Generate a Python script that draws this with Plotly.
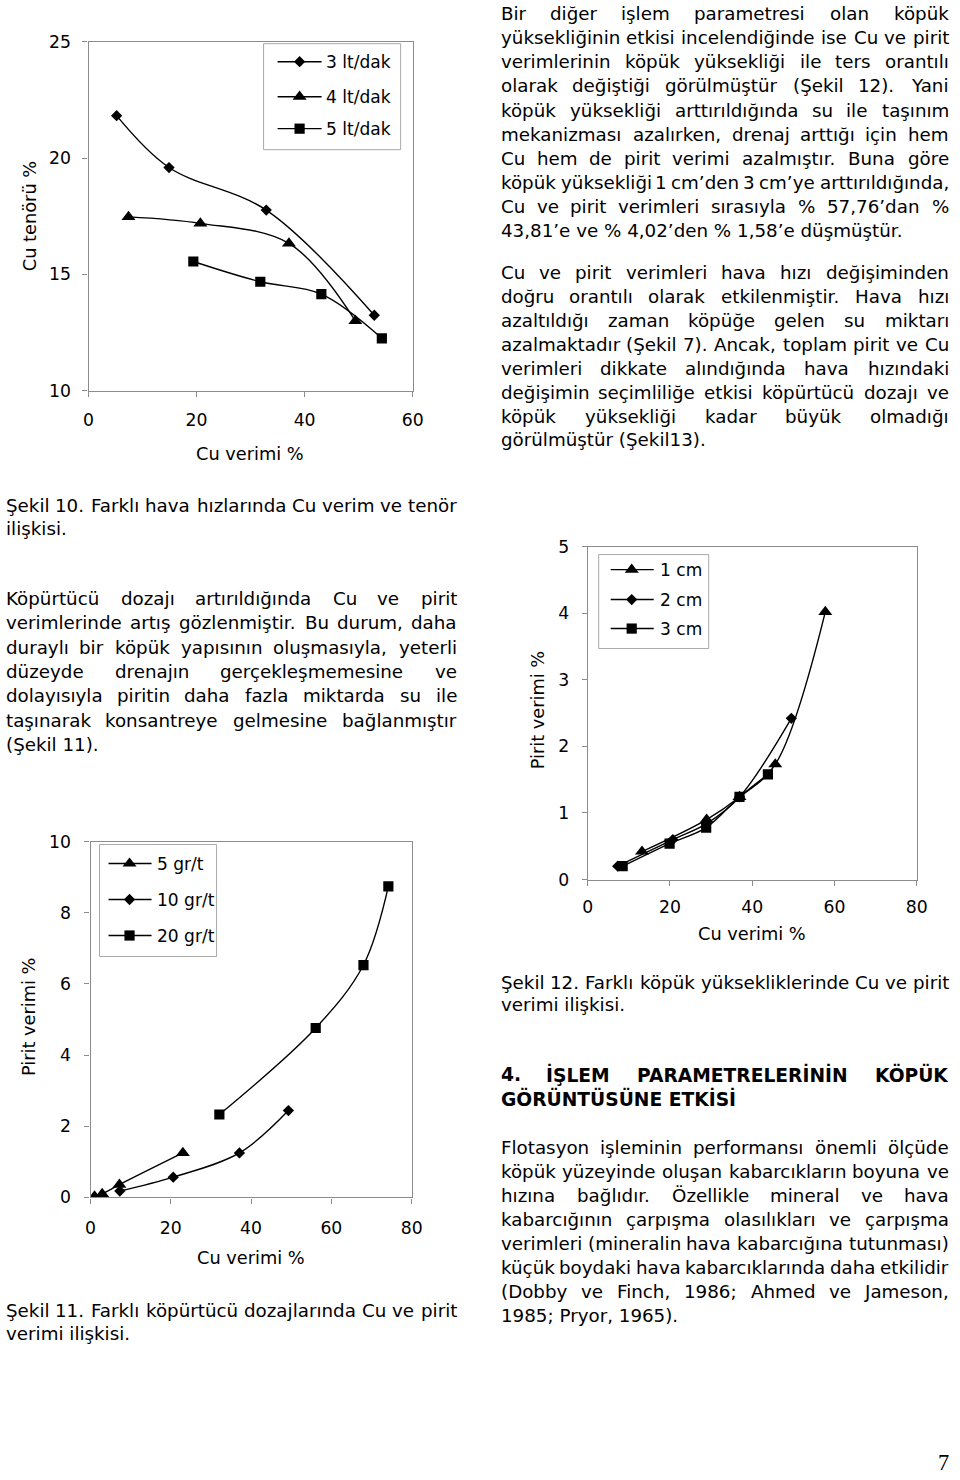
import plotly.graph_objects as go

# ---------------- data ----------------
# Şekil 10: Cu verimi % (x) – Cu tenörü % (y)
s10_names = ["3 lt/dak", "4 lt/dak", "5 lt/dak"]
s10_x_3 = [5.2, 14.9, 32.9, 52.9]
s10_y_3 = [21.82, 19.59, 17.76, 13.24]
s10_x_4 = [7.4, 20.7, 37.1, 49.4]
s10_y_4 = [17.47, 17.19, 16.33, 13.0]
s10_x_5 = [19.4, 31.8, 43.1, 54.3]
s10_y_5 = [15.55, 14.68, 14.15, 12.25]
s10_xticks = [0, 20, 40, 60]
s10_yticks = [10, 15, 20, 25]

# Şekil 11: Cu verimi % (x) – Pirit verimi % (y)
s11_names = ["5 gr/t", "10 gr/t", "20 gr/t"]
s11_x_5 = [1.0, 2.9, 7.2, 23.0]
s11_y_5 = [0.03, 0.10, 0.36, 1.25]
s11_x_10 = [7.3, 20.6, 37.1, 49.3]
s11_y_10 = [0.18, 0.57, 1.25, 2.44]
s11_x_20 = [32.1, 56.1, 68.0, 74.2]
s11_y_20 = [2.33, 4.76, 6.53, 8.74]
s11_xticks = [0, 20, 40, 60, 80]
s11_yticks = [0, 2, 4, 6, 8, 10]

# Şekil 12: Cu verimi % (x) – Pirit verimi % (y)
s12_names = ["1 cm", "2 cm", "3 cm"]
s12_x_1 = [13.2, 28.9, 36.9, 45.6, 57.76]
s12_y_1 = [0.42, 0.90, 1.24, 1.73, 4.02]
s12_x_2 = [7.3, 20.7, 28.9, 36.9, 49.5]
s12_y_2 = [0.20, 0.60, 0.84, 1.24, 2.42]
s12_x_3 = [8.5, 19.9, 28.8, 36.9, 43.81]
s12_y_3 = [0.20, 0.54, 0.78, 1.24, 1.58]
s12_xticks = [0, 20, 40, 60, 80]
s12_yticks = [0, 1, 2, 3, 4, 5]

# ---------------- page text ----------------
txt_right_top = [
    "Bir diğer işlem parametresi olan köpük",
    "yüksekliğinin etkisi incelendiğinde ise Cu ve pirit",
    "verimlerinin köpük yüksekliği ile ters orantılı",
    "olarak değiştiği görülmüştür (Şekil 12). Yani",
    "köpük yüksekliği arttırıldığında su ile taşınım",
    "mekanizması azalırken, drenaj arttığı için hem",
    "Cu hem de pirit verimi azalmıştır.  Buna göre",
    "köpük yüksekliği 1 cm’den 3 cm’ye arttırıldığında,",
    "Cu ve pirit verimleri sırasıyla % 57,76’dan %",
    "43,81’e ve % 4,02’den % 1,58’e düşmüştür.",
]
txt_right_mid = [
    "Cu ve pirit verimleri hava hızı değişiminden",
    "doğru orantılı olarak etkilenmiştir. Hava hızı",
    "azaltıldığı zaman köpüğe gelen su miktarı",
    "azalmaktadır (Şekil 7). Ancak, toplam pirit ve Cu",
    "verimleri dikkate alındığında hava hızındaki",
    "değişimin seçimliliğe etkisi köpürtücü dozajı ve",
    "köpük yüksekliği kadar büyük olmadığı",
    "görülmüştür (Şekil13).",
]
txt_cap10 = [
    "Şekil 10. Farklı hava hızlarında Cu verim ve tenör",
    "ilişkisi.",
]
txt_left = [
    "Köpürtücü dozajı artırıldığında Cu ve pirit",
    "verimlerinde artış gözlenmiştir. Bu durum, daha",
    "duraylı bir köpük yapısının oluşmasıyla, yeterli",
    "düzeyde drenajın gerçekleşmemesine ve",
    "dolayısıyla piritin daha fazla miktarda su ile",
    "taşınarak konsantreye gelmesine bağlanmıştır",
    "(Şekil 11).",
]
txt_cap11 = [
    "Şekil 11. Farklı köpürtücü dozajlarında Cu ve pirit",
    "verimi ilişkisi.",
]
txt_cap12 = [
    "Şekil 12. Farklı köpük yüksekliklerinde Cu ve pirit",
    "verimi ilişkisi.",
]
txt_heading = [
    "4. İŞLEM PARAMETRELERİNİN KÖPÜK",
    "GÖRÜNTÜSÜNE ETKİSİ",
]
txt_right_bottom = [
    "Flotasyon işleminin performansı önemli ölçüde",
    "köpük yüzeyinde oluşan kabarcıkların boyuna ve",
    "hızına bağlıdır. Özellikle mineral ve hava",
    "kabarcığının çarpışma olasılıkları ve çarpışma",
    "verimleri (mineralin hava kabarcığına tutunması)",
    "küçük boydaki hava kabarcıklarında daha etkilidir",
    "(Dobby ve Finch, 1986; Ahmed ve Jameson,",
    "1985; Pryor, 1965).",
]
page_number = "7"

# ---------------- page geometry ----------------
W, H = 960, 1480
# the photographed page is slightly scaled/offset; layout positions below are
# given in picture pixels and converted with this affine map
KX, AX = 0.983, 5.5
KY, AY = 0.9867, 9.3
KF = (KX + KY) / 2.0           # font scale compensation

FONT = "DejaVu Sans"
GREY = "#8c8c8c"
BODY = 18.0 / KF
CH = 17.0 / KF
LEG = 16.8 / KF

WREG = {" ": 318, "!": 401, "%": 950, "'": 275, "(": 390, ")": 390, ",": 318, "-": 361,
        ".": 318, "/": 337, ":": 337, ";": 337, "’": 318,
        "A": 684, "B": 686, "C": 698, "D": 770, "E": 632, "F": 575, "G": 775, "H": 752,
        "I": 295, "J": 295, "K": 656, "L": 557, "M": 863, "N": 748, "O": 787, "P": 603,
        "Q": 787, "R": 695, "S": 635, "T": 611, "U": 732, "V": 684, "W": 989, "X": 685,
        "Y": 611, "Z": 685,
        "a": 613, "b": 635, "c": 550, "d": 635, "e": 615, "f": 352, "g": 635, "h": 634,
        "i": 278, "j": 278, "k": 579, "l": 278, "m": 974, "n": 634, "o": 612, "p": 635,
        "q": 635, "r": 411, "s": 521, "t": 392, "u": 634, "v": 592, "w": 818, "x": 592,
        "y": 592, "z": 525,
        "ç": 550, "ğ": 635, "ı": 278, "ö": 612, "ş": 521, "ü": 634,
        "Ç": 698, "Ğ": 775, "İ": 295, "Ö": 787, "Ş": 635, "Ü": 732}
for d in "0123456789":
    WREG[d] = 636
WBOLD = {" ": 348, ".": 380, "A": 774, "B": 762, "C": 734, "D": 830, "E": 683, "F": 683,
         "G": 821, "H": 837, "I": 372, "İ": 372, "K": 775, "L": 637, "M": 995, "N": 837,
         "O": 850, "Ö": 850, "P": 733, "R": 770, "S": 720, "Ş": 720, "T": 682, "U": 812,
         "Ü": 812}
for d in "0123456789":
    WBOLD[d] = 696


def text_w(s, size, bold=False):
    """approximate rendered width, in picture pixels"""
    tbl = WBOLD if bold else WREG
    return sum(tbl.get(c, 620 if not bold else 700) for c in s) * size * KX / 1000.0 * 1.02


annotations = []
shapes = []


def add_text(x, y, text, size=BODY, anchor="left", bold=False, family=FONT, angle=0):
    annotations.append(dict(
        x=x, y=y, xref="x4", yref="y4", text=("<b>%s</b>" % text) if bold else text,
        showarrow=False, xanchor=anchor, yanchor="middle", borderpad=0, borderwidth=0,
        textangle=angle, font=dict(family=family, size=size, color="black")))


def add_block(lines, x0, x1, y0, dy, size=BODY, bold=False):
    for i, line in enumerate(lines):
        y = y0 + i * dy
        words = line.split()
        last = i == len(lines) - 1
        if last or len(words) < 2:
            add_text(x0, y, line, size, "left", bold)
            continue
        widths = [text_w(w, size, bold) for w in words]
        gap = (x1 - x0 - sum(widths)) / (len(words) - 1)
        x = x0
        for j, w in enumerate(words):
            if j == 0:
                add_text(x0, y, w, size, "left", bold)
            elif j == len(words) - 1:
                add_text(x1, y, w, size, "right", bold)
            else:
                add_text(x + widths[j] / 2.0, y, w, size, "center", bold)
            x += widths[j] + gap


X_MIN = AX + 0.5
X_MAX = AX + KX * W - 0.5
LX0, LX1 = max(1, X_MIN), 457
RX0, RX1 = 501, min(957, X_MAX)
add_block(txt_right_top, RX0, RX1, 13, 24.1)
add_block(txt_right_mid, RX0, RX1, 272, 23.9)
add_block(txt_cap10, LX0, LX1, 505, 23)
add_block(txt_left, LX0, LX1, 598, 24.3)
add_block(txt_cap11, LX0, LX1, 1310, 23)
add_block(txt_cap12, RX0, RX1, 982, 22)
add_block(txt_heading, RX0, RX1, 1074, 24, size=18.4 / KF, bold=True)
add_block(txt_right_bottom, RX0, RX1, 1147, 24)
add_text(X_MAX, 1462, page_number, size=22 / KF, anchor="right", family="Liberation Serif")


# ---------------- charts ----------------
def dom_x(a, b):
    return [(a - AX) / KX / W, (b - AX) / KX / W]


def dom_y(top, bottom):
    return [1 - (bottom - AY) / KY / H, 1 - (top - AY) / KY / H]


def axis(domain, rng, ticks, anchor, standoff):
    return dict(domain=domain, range=rng, tickvals=ticks, anchor=anchor,
                showline=True, linecolor=GREY, linewidth=1.2, mirror=True,
                ticks="outside", ticklen=5, tickwidth=1, tickcolor=GREY,
                showgrid=False, zeroline=False,
                tickfont=dict(family=FONT, size=CH, color="black"),
                ticklabelstandoff=standoff, fixedrange=True)


SYM = {"diamond": 8.7, "triangle-up": 12.2, "square": 10.2}


def series(x, y, sym, xa, ya):
    return go.Scatter(x=x, y=y, xaxis=xa, yaxis=ya, mode="lines+markers",
                      line=dict(color="black", width=1.4, shape="spline", smoothing=1),
                      marker=dict(symbol=sym, size=SYM[sym], color="black"),
                      showlegend=False, hoverinfo="skip")


fig = go.Figure()
# Şekil 10
fig.add_trace(series(s10_x_3, s10_y_3, "diamond", "x", "y"))
fig.add_trace(series(s10_x_4, s10_y_4, "triangle-up", "x", "y"))
fig.add_trace(series(s10_x_5, s10_y_5, "square", "x", "y"))
# Şekil 11
fig.add_trace(series(s11_x_5, s11_y_5, "triangle-up", "x2", "y2"))
fig.add_trace(series(s11_x_10, s11_y_10, "diamond", "x2", "y2"))
fig.add_trace(series(s11_x_20, s11_y_20, "square", "x2", "y2"))
# Şekil 12
fig.add_trace(series(s12_x_1, s12_y_1, "triangle-up", "x3", "y3"))
fig.add_trace(series(s12_x_2, s12_y_2, "diamond", "x3", "y3"))
fig.add_trace(series(s12_x_3, s12_y_3, "square", "x3", "y3"))


def legend(box, rows, names, symbols, line_x, mark_x, text_x):
    shapes.append(dict(type="rect", xref="x4", yref="y4", x0=box[0], y0=box[1],
                       x1=box[2], y1=box[3], line=dict(color="#a8a8a8", width=1),
                       fillcolor="white", layer="below"))
    for yy, name, sym in zip(rows, names, symbols):
        shapes.append(dict(type="line", xref="x4", yref="y4", x0=line_x[0], x1=line_x[1],
                           y0=yy, y1=yy, line=dict(color="black", width=1.4)))
        fig.add_trace(go.Scatter(x=[mark_x], y=[yy], xaxis="x4", yaxis="y4", mode="markers",
                                 marker=dict(symbol=sym, size=SYM[sym], color="black"),
                                 showlegend=False, hoverinfo="skip"))
        add_text(text_x, yy, name, size=LEG)


legend((264, 43, 401, 149), [61, 96, 128], s10_names,
       ["diamond", "triangle-up", "square"], (278, 322), 300, 326)
legend((100, 844, 217, 956), [863, 899, 935], s11_names,
       ["triangle-up", "diamond", "square"], (109, 152), 130, 157)
legend((599, 554, 709, 648), [569, 599, 628], s12_names,
       ["triangle-up", "diamond", "square"], (611, 654), 632, 660)

# axis titles
AT = 17.5 / KF
add_text(250, 453, "Cu verimi %", size=AT, anchor="center")
add_text(30, 216, "Cu tenörü %", size=AT, anchor="center", angle=-90)
add_text(251, 1258, "Cu verimi %", size=AT, anchor="center")
add_text(30, 1017, "Pirit verimi %", size=AT, anchor="center", angle=-90)
add_text(752, 933, "Cu verimi %", size=AT, anchor="center")
add_text(538, 710, "Pirit verimi %", size=AT, anchor="center", angle=-90)

fig.update_layout(
    width=W, height=H, autosize=False,
    margin=dict(l=0, r=0, t=0, b=0),
    paper_bgcolor="white", plot_bgcolor="rgba(0,0,0,0)",
    showlegend=False,
    xaxis=axis(dom_x(89, 413), [0, 60], s10_xticks, "y", 9),
    yaxis=axis(dom_y(41, 390), [10, 25], s10_yticks, "x", 8),
    xaxis2=axis(dom_x(91, 412), [0, 80], s11_xticks, "y2", 10),
    yaxis2=axis(dom_y(841, 1197), [0, 10], s11_yticks, "x2", 10),
    xaxis3=axis(dom_x(588, 917), [0, 80], s12_xticks, "y3", 7),
    yaxis3=axis(dom_y(546, 879), [0, 5], s12_yticks, "x3", 9),
    xaxis4=dict(domain=[0, 1], range=[AX, AX + KX * W], visible=False, anchor="y4",
                fixedrange=True),
    yaxis4=dict(domain=[0, 1], range=[AY + KY * H, AY], visible=False, anchor="x4",
                fixedrange=True),
    annotations=annotations,
    shapes=shapes,
)

fig.write_html("out.html", config={"displayModeBar": False})
